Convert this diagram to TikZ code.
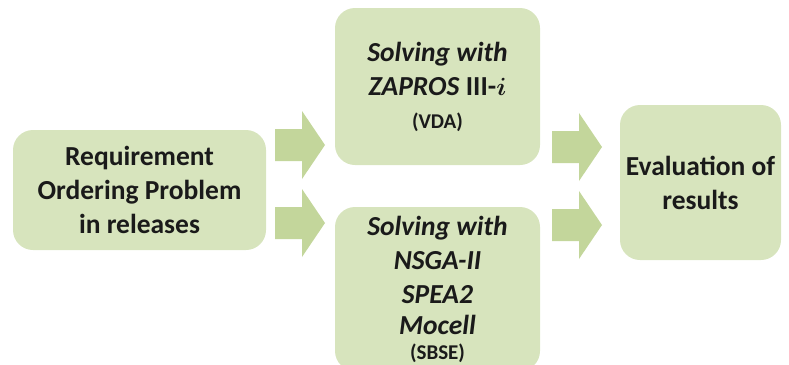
\documentclass[tikz,border=0pt]{standalone}
\usepackage{amsmath}
\usepackage{bm}
\usepackage{fontspec}
\setmainfont{Carlito}
\definecolor{boxfill}{HTML}{D7E4BD}
\definecolor{arrowfill}{HTML}{C3D69B}
\definecolor{ink}{HTML}{1A1A1A}
\tikzset{
  stagebox/.style={fill=boxfill, draw=none, rounded corners=20pt, inner sep=0pt,
    align=center, text=ink, font=\fontsize{27.5}{34}\selectfont\bfseries},
  blockarrow/.style={fill=arrowfill, draw=none}
}
% block arrow: tail at (#1,#2) pointing right, 50pt long
\newcommand\stagearrow[2]{%
  \fill[blockarrow] (#1,#2-16) -- ++(27,0) -- ++(0,-18) -- (#1+50,#2)
    -- (#1+27,#2+34) -- ++(0,-18) -- (#1,#2+16) -- cycle;}
\begin{document}
\begin{tikzpicture}[x=1pt, y=-1pt]
  \useasboundingbox (0,0) rectangle (789,364);
  % stages
  \node[stagebox, minimum width=253pt, minimum height=120pt] (problem) at (139.5,190)
    {Requirement\\Ordering Problem\\in releases};
  \node[stagebox, minimum width=205pt, minimum height=157pt] (vda) at (437.5,86.5)
    {\textit{Solving with}\\\textit{ZAPROS} III-$\bm{i}$\\[-1pt]{\fontsize{21}{26}\selectfont (VDA)}};
  \node[stagebox, minimum width=205pt, minimum height=164pt] (sbse) at (437.5,289)
    {\textit{Solving with}\\\textit{NSGA-II}\\\textit{SPEA2}\\[-3pt]\textit{Mocell}\\[-9pt]{\fontsize{21}{26}\selectfont (SBSE)}};
  \node[stagebox, minimum width=161pt, minimum height=155pt] (eval) at (700.5,182.5)
    {Evaluation of\\results};
  % block arrows between the stages
  \stagearrow{275}{145}
  \stagearrow{275}{223}
  \stagearrow{552}{147}
  \stagearrow{552}{225}
\end{tikzpicture}
\end{document}
